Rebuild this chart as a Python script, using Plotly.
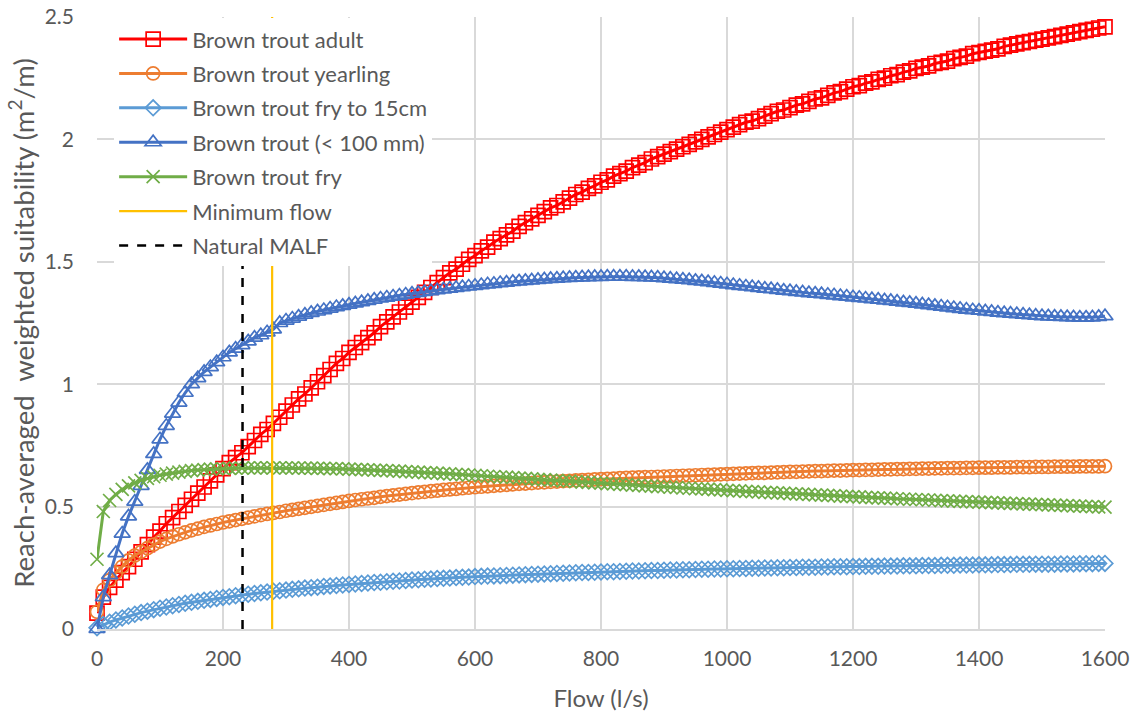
import plotly.graph_objects as go

# Flow grid (l/s), one value every 10 l/s from 0 to 1600
flow = list(range(0, 1601, 10))

adult = [
    0.065, 0.13, 0.17, 0.20, 0.23, 0.255, 0.285, 0.315, 0.345, 0.375,
    0.40, 0.43, 0.455, 0.48, 0.505, 0.53, 0.555, 0.58, 0.605, 0.63,
    0.655, 0.68, 0.70, 0.72, 0.745, 0.77, 0.795, 0.815, 0.84, 0.865,
    0.89, 0.915, 0.94, 0.96, 0.985, 1.01, 1.035, 1.06, 1.085, 1.105,
    1.13, 1.15, 1.17, 1.19, 1.21, 1.235, 1.255, 1.275, 1.295, 1.315,
    1.335, 1.355, 1.375, 1.395, 1.415, 1.435, 1.455, 1.47, 1.49, 1.51,
    1.525, 1.545, 1.56, 1.58, 1.595, 1.61, 1.625, 1.645, 1.66, 1.675,
    1.69, 1.705, 1.72, 1.73, 1.745, 1.76, 1.775, 1.785, 1.80, 1.81,
    1.825, 1.835, 1.85, 1.86, 1.87, 1.885, 1.895, 1.905, 1.92, 1.93,
    1.94, 1.95, 1.96, 1.97, 1.98, 1.99, 2.00, 2.01, 2.02, 2.03,
    2.04, 2.05, 2.06, 2.07, 2.075, 2.085, 2.095, 2.105, 2.115, 2.12,
    2.13, 2.14, 2.145, 2.155, 2.165, 2.17, 2.18, 2.19, 2.195, 2.205,
    2.215, 2.22, 2.23, 2.235, 2.245, 2.25, 2.26, 2.265, 2.275, 2.28,
    2.29, 2.295, 2.30, 2.31, 2.315, 2.32, 2.33, 2.335, 2.34, 2.35,
    2.355, 2.36, 2.365, 2.37, 2.38, 2.385, 2.39, 2.395, 2.40, 2.405,
    2.41, 2.415, 2.42, 2.425, 2.43, 2.435, 2.44, 2.445, 2.45, 2.455,
    2.46,
]

yearling = [
    0.07, 0.16, 0.20, 0.23, 0.255, 0.28, 0.30, 0.315, 0.33, 0.345,
    0.357, 0.368, 0.378, 0.387, 0.395, 0.403, 0.41, 0.417, 0.423, 0.429,
    0.435, 0.44, 0.445, 0.45, 0.455, 0.46, 0.465, 0.47, 0.474, 0.478,
    0.483, 0.487, 0.491, 0.495, 0.499, 0.503, 0.507, 0.511, 0.515, 0.519,
    0.523, 0.527, 0.53, 0.533, 0.536, 0.54, 0.543, 0.546, 0.549, 0.552,
    0.555, 0.558, 0.56, 0.563, 0.565, 0.568, 0.57, 0.572, 0.575, 0.577,
    0.579, 0.581, 0.583, 0.585, 0.587, 0.589, 0.591, 0.593, 0.594, 0.596,
    0.598, 0.599, 0.601, 0.602, 0.604, 0.605, 0.607, 0.608, 0.609, 0.611,
    0.612, 0.613, 0.614, 0.616, 0.617, 0.618, 0.619, 0.62, 0.621, 0.622,
    0.623, 0.624, 0.625, 0.626, 0.627, 0.628, 0.629, 0.63, 0.631, 0.632,
    0.633, 0.634, 0.635, 0.636, 0.637, 0.638, 0.638, 0.639, 0.64, 0.641,
    0.642, 0.642, 0.643, 0.644, 0.645, 0.645, 0.646, 0.647, 0.647, 0.648,
    0.649, 0.649, 0.65, 0.65, 0.651, 0.652, 0.652, 0.653, 0.653, 0.654,
    0.654, 0.655, 0.655, 0.656, 0.656, 0.657, 0.657, 0.657, 0.658, 0.658,
    0.659, 0.659, 0.659, 0.66, 0.66, 0.66, 0.661, 0.661, 0.661, 0.662,
    0.662, 0.662, 0.663, 0.663, 0.663, 0.663, 0.664, 0.664, 0.664, 0.664,
    0.665,
]

fry_15cm = [
    0.005, 0.018, 0.028, 0.037, 0.045, 0.053, 0.06, 0.067, 0.073, 0.079,
    0.085, 0.09, 0.095, 0.1, 0.105, 0.109, 0.113, 0.117, 0.121, 0.125,
    0.129, 0.132, 0.136, 0.139, 0.142, 0.145, 0.148, 0.151, 0.154, 0.156,
    0.159, 0.162, 0.164, 0.167, 0.169, 0.171, 0.174, 0.176, 0.178, 0.18,
    0.182, 0.184, 0.186, 0.188, 0.19, 0.191, 0.193, 0.195, 0.196, 0.198,
    0.2, 0.201, 0.203, 0.204, 0.206, 0.207, 0.208, 0.21, 0.211, 0.212,
    0.214, 0.215, 0.216, 0.217, 0.218, 0.219, 0.22, 0.221, 0.222, 0.223,
    0.224, 0.225, 0.226, 0.227, 0.228, 0.229, 0.23, 0.231, 0.231, 0.232,
    0.233, 0.234, 0.234, 0.235, 0.236, 0.237, 0.237, 0.238, 0.239, 0.239,
    0.24, 0.241, 0.241, 0.242, 0.242, 0.243, 0.244, 0.244, 0.245, 0.245,
    0.246, 0.246, 0.247, 0.247, 0.248, 0.248, 0.249, 0.249, 0.25, 0.25,
    0.251, 0.251, 0.252, 0.252, 0.252, 0.253, 0.253, 0.254, 0.254, 0.254,
    0.255, 0.255, 0.256, 0.256, 0.256, 0.257, 0.257, 0.257, 0.258, 0.258,
    0.258, 0.259, 0.259, 0.259, 0.26, 0.26, 0.26, 0.261, 0.261, 0.261,
    0.262, 0.262, 0.262, 0.263, 0.263, 0.263, 0.264, 0.264, 0.264, 0.265,
    0.265, 0.265, 0.265, 0.266, 0.266, 0.266, 0.267, 0.267, 0.267, 0.268,
    0.268,
]

lt100mm = [
    0.0, 0.13, 0.22, 0.31, 0.39, 0.46, 0.52, 0.585, 0.65, 0.715,
    0.775, 0.83, 0.88, 0.925, 0.965, 1.0, 1.025, 1.05, 1.07, 1.09,
    1.11, 1.13, 1.145, 1.16, 1.175, 1.19, 1.2, 1.212, 1.224, 1.25,
    1.26, 1.268, 1.276, 1.284, 1.291, 1.297, 1.303, 1.309, 1.315, 1.32,
    1.325, 1.33, 1.335, 1.34, 1.345, 1.35, 1.354, 1.358, 1.362, 1.366,
    1.37, 1.373, 1.377, 1.38, 1.384, 1.387, 1.39, 1.393, 1.396, 1.399,
    1.402, 1.405, 1.408, 1.41, 1.413, 1.415, 1.418, 1.42, 1.422, 1.424,
    1.426, 1.428, 1.43, 1.431, 1.433, 1.434, 1.435, 1.436, 1.437, 1.438,
    1.438, 1.439, 1.439, 1.439, 1.439, 1.438, 1.438, 1.437, 1.436, 1.435,
    1.433, 1.431, 1.429, 1.427, 1.425, 1.422, 1.42, 1.417, 1.414, 1.411,
    1.408, 1.405, 1.402, 1.399, 1.396, 1.393, 1.39, 1.388, 1.385, 1.382,
    1.38, 1.377, 1.375, 1.372, 1.37, 1.368, 1.365, 1.363, 1.36, 1.358,
    1.355, 1.353, 1.35, 1.347, 1.345, 1.342, 1.34, 1.337, 1.334, 1.332,
    1.329, 1.326, 1.323, 1.32, 1.317, 1.314, 1.311, 1.308, 1.305, 1.302,
    1.3, 1.297, 1.295, 1.292, 1.29, 1.288, 1.286, 1.284, 1.282, 1.28,
    1.278, 1.277, 1.276, 1.275, 1.274, 1.273, 1.272, 1.272, 1.273, 1.275,
    1.278,
]

fry = [
    0.285, 0.48, 0.525, 0.55, 0.57, 0.585, 0.597, 0.607, 0.615, 0.622,
    0.628, 0.633, 0.637, 0.641, 0.644, 0.647, 0.649, 0.651, 0.653, 0.654,
    0.655, 0.656, 0.657, 0.657, 0.658, 0.658, 0.658, 0.658, 0.658, 0.658,
    0.658, 0.658, 0.657, 0.657, 0.657, 0.656, 0.656, 0.655, 0.655, 0.654,
    0.653, 0.652, 0.651, 0.65, 0.649, 0.648, 0.647, 0.646, 0.645, 0.643,
    0.642, 0.641, 0.639, 0.638, 0.637, 0.635, 0.634, 0.632, 0.631, 0.629,
    0.628, 0.626, 0.624, 0.623, 0.621, 0.62, 0.618, 0.616, 0.615, 0.613,
    0.611, 0.61, 0.608, 0.607, 0.605, 0.604, 0.602, 0.6, 0.599, 0.597,
    0.596, 0.594, 0.593, 0.591, 0.59, 0.588, 0.587, 0.585, 0.584, 0.582,
    0.581, 0.579, 0.578, 0.576, 0.575, 0.573, 0.572, 0.571, 0.569, 0.568,
    0.566, 0.565, 0.564, 0.562, 0.561, 0.56, 0.558, 0.557, 0.556, 0.555,
    0.553, 0.552, 0.551, 0.55, 0.548, 0.547, 0.546, 0.545, 0.543, 0.542,
    0.541, 0.54, 0.538, 0.537, 0.536, 0.535, 0.534, 0.532, 0.531, 0.53,
    0.529, 0.528, 0.527, 0.526, 0.524, 0.523, 0.522, 0.521, 0.52, 0.519,
    0.518, 0.517, 0.516, 0.515, 0.514, 0.513, 0.512, 0.511, 0.51, 0.509,
    0.508, 0.507, 0.506, 0.505, 0.504, 0.503, 0.502, 0.501, 0.5, 0.499,
    0.498,
]

min_flow = 278
malf_flow = 231
y_span = [0, 2.5]

series_names = ["Brown trout adult", "Brown trout yearling", "Brown trout fry to 15cm",
                "Brown trout (< 100 mm)", "Brown trout fry"]
series_vals = [adult, yearling, fry_15cm, lt100mm, fry]
series_colors = ["#FF0000", "#ED7D31", "#5B9BD5", "#4472C4", "#70AD47"]
series_symbols = ["square-open", "circle-open", "diamond-open", "triangle-up-open", "x-thin-open"]
series_sizes = [14, 13, 12, 14, 13]

x_ticks = [0, 200, 400, 600, 800, 1000, 1200, 1400, 1600]
y_ticks = [0, 0.5, 1, 1.5, 2, 2.5]
y_tick_text = ["0", "0.5", "1", "1.5", "2", "2.5"]

FONT = "Lato, 'Liberation Sans', sans-serif"
GREY = "#595959"

fig = go.Figure()
for i, (name, vals, col, sym, sz) in enumerate(zip(series_names, series_vals, series_colors,
                                                    series_symbols, series_sizes)):
    fig.add_trace(go.Scatter(
        x=flow, y=vals, name=name, mode="lines+markers", legendgroup=f"g{i}",
        line=dict(color=col, width=3),
        marker=dict(symbol=sym, size=sz, color=col, line=dict(color=col, width=1.7)),
        cliponaxis=False,
    ))

fig.add_trace(go.Scatter(
    x=[min_flow, min_flow], y=y_span, name="Minimum flow", mode="lines", legendgroup="g5",
    line=dict(color="#FFC000", width=2.2),
))
fig.add_trace(go.Scatter(
    x=[malf_flow, malf_flow], y=y_span, name="Natural MALF", mode="lines", legendgroup="g6",
    line=dict(color="#000000", width=2.5, dash="dash"),
))

fig.update_layout(
    width=1138, height=715,
    margin=dict(l=97, r=33, t=17, b=86, autoexpand=False),
    paper_bgcolor="white", plot_bgcolor="white",
    font=dict(family=FONT, size=21, color=GREY),
    showlegend=True,
    legend=dict(
        x=0.017, y=0.9745, xref="paper", yref="container", xanchor="left", yanchor="top",
        bgcolor="white", borderwidth=0,
        font=dict(family=FONT, size=22, color=GREY),
        itemwidth=68, traceorder="grouped", tracegroupgap=2.8,
    ),
    xaxis=dict(
        range=[0, 1600], tickvals=x_ticks, ticktext=[str(t) for t in x_ticks],
        showgrid=True, gridcolor="#D9D9D9", gridwidth=1.5,
        zeroline=False, showline=True, linecolor="#D9D9D9", linewidth=1.5,
        ticks="", ticklabelstandoff=10, automargin=False,
        tickfont=dict(family=FONT, size=21, color=GREY),
        title=dict(text="Flow (l/s)", font=dict(family=FONT, size=24, color=GREY), standoff=21),
    ),
    yaxis=dict(
        range=[0, 2.5], tickvals=y_ticks, ticktext=y_tick_text,
        showgrid=True, gridcolor="#D9D9D9", gridwidth=1.5,
        zeroline=False, showline=False, automargin=False,
        ticks="", ticklabelstandoff=22,
        tickfont=dict(family=FONT, size=21, color=GREY),
        title=dict(text="Reach-averaged\u00a0 weighted suitability (m<sup>2</sup>/m)",
                   font=dict(family=FONT, size=27.5, color=GREY), standoff=2),
    ),
)

fig.write_html("out.html")
